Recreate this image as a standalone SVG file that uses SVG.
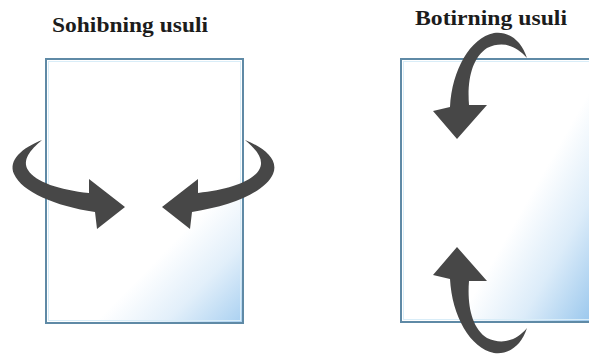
<svg xmlns="http://www.w3.org/2000/svg" width="589" height="354" viewBox="0 0 589 354">
<defs>
<style>
.title{font-family:"Liberation Serif","Times New Roman",serif;font-weight:bold;font-size:21px;fill:#1c1c1c}
.page{stroke:#5f8aa6;stroke-width:2}
.inner{fill:none;stroke:#d9edf8;stroke-width:1}
.arrow{fill:#474747}
</style>
<linearGradient id="gL" gradientUnits="userSpaceOnUse" x1="168" y1="248" x2="248" y2="326">
<stop offset="0" stop-color="#ffffff"/>
<stop offset="0.45" stop-color="#e2effa"/>
<stop offset="1" stop-color="#a3cdf0"/>
</linearGradient>
<linearGradient id="gR" gradientUnits="userSpaceOnUse" x1="515" y1="222" x2="620" y2="282">
<stop offset="0" stop-color="#ffffff"/>
<stop offset="0.45" stop-color="#dcecf9"/>
<stop offset="1" stop-color="#94c4ec"/>
</linearGradient>
<path id="arrowIn" d="M42,140 C22,148 8,160 14,174 C22,192 55,206 95,212 L97,229 L125,207 L89,179 L89,193 C60,190 35,182 28,170 C22,160 30,150 42,140 Z"/>
<path id="arrowDown" d="M527,58 C521,39 507,31 494,33 C470,38 452,70 450,107 L433,111 L457,139 L487,105 L469,105 C467,80 472,58 487,48 C502,41 516,45 527,58 Z"/>
</defs>
<rect width="589" height="354" fill="#ffffff"/>
<g id="sohib">
<text class="title" x="52" y="32" textLength="156" lengthAdjust="spacingAndGlyphs">Sohibning usuli</text>
<rect class="page" x="46" y="59" width="197" height="264" fill="url(#gL)"/>
<rect class="inner" x="48.5" y="61.5" width="192" height="259"/>
</g>
<g id="botir">
<text class="title" x="415" y="25" textLength="152" lengthAdjust="spacingAndGlyphs">Botirning usuli</text>
<rect class="page" x="401" y="59" width="200" height="263" fill="url(#gR)"/>
<rect class="inner" x="403.5" y="61.5" width="195" height="258"/>
</g>
<g id="connectors">
<use href="#arrowIn" class="arrow"/>
<use href="#arrowIn" class="arrow" transform="translate(287,0) scale(-1,1)"/>
<use href="#arrowDown" class="arrow"/>
<use href="#arrowDown" class="arrow" transform="translate(0,386) scale(1,-1)"/>
</g>
</svg>
